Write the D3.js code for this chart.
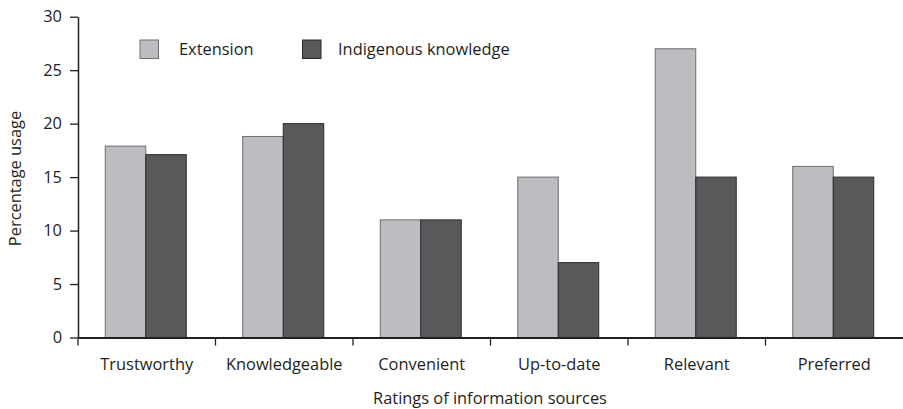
<!DOCTYPE html>
<html><head><meta charset="utf-8">
<script src="https://cdn.jsdelivr.net/npm/d3@7"></script>
<style>body{margin:0;background:#fff}svg{display:block}text{font-family:"Open Sans",sans-serif;fill:#231f20}</style>
</head><body>
<svg id="c" width="903" height="409"></svg>
<script>
const categories = ["Trustworthy","Knowledgeable","Convenient","Up-to-date","Relevant","Preferred"];
const extension = [17.9, 18.8, 11, 15, 27, 16];
const indigenous = [17.1, 20, 11, 7, 15, 15];
const seriesNames = ["Extension","Indigenous knowledge"];
const yTicks = [0,5,10,15,20,25,30];
const xTitle = "Ratings of information sources";
const yTitle = "Percentage usage";

const FS = 16.4;
const svg = d3.select("#c");
const x0 = 78, x1 = 903, yTop = 16.7, yBot = 337.5;
const x = d3.scaleBand().domain(categories).range([x0, x1]).paddingInner(0).paddingOuter(0);
const sub = d3.scaleBand().domain(seriesNames).range([0, 81]);
const y = d3.scaleLinear().domain([0,30]).range([yBot, yTop]);
const fills = ["#bcbdc0","#58595b"], strokes = ["#6d6e71","#2b2b2d"];

const data = categories.map((c,i)=>({c, v:[extension[i], indigenous[i]]}));
const g = svg.append("g");
data.forEach(d=>{
  const cx = x(d.c) + x.bandwidth()/2 - 41.5;
  d.v.forEach((v,j)=>{
    g.append("rect")
      .attr("x", cx + sub(seriesNames[j]))
      .attr("y", y(v))
      .attr("width", sub.bandwidth())
      .attr("height", yBot - y(v))
      .attr("fill", fills[j]).attr("stroke", strokes[j]).attr("stroke-width",1);
  });
});

// y axis
const ya = svg.append("g").attr("transform",`translate(${x0},0)`)
  .call(d3.axisLeft(y).tickValues(yTicks).tickSize(8).tickSizeOuter(0).tickPadding(8));
ya.select(".domain").attr("stroke","#231f20").attr("stroke-width",1.5);
ya.selectAll(".tick line").attr("stroke","#231f20").attr("stroke-width",1.3);
ya.selectAll(".tick text").attr("font-size",FS).attr("fill","#231f20").style("font-family","'Open Sans',sans-serif");

// x axis
const xa = svg.append("g").attr("transform",`translate(0,${yBot})`)
  .call(d3.axisBottom(x).tickSize(0).tickSizeOuter(0));
xa.select(".domain").attr("stroke","#231f20").attr("stroke-width",2);
xa.selectAll(".tick text").attr("font-size",FS).attr("fill","#231f20")
  .attr("y",32).attr("dy",0).style("font-family","'Open Sans',sans-serif");
// boundary ticks
const bounds = categories.map(c=>x(c));
svg.append("g").selectAll("line").data(bounds).join("line")
  .attr("x1",d=>d).attr("x2",d=>d).attr("y1",yBot).attr("y2",yBot+8)
  .attr("stroke","#231f20").attr("stroke-width",1.3);

// titles
svg.append("text").attr("x",490).attr("y",404).attr("text-anchor","middle").attr("font-size",FS).text(xTitle);
svg.append("text").attr("transform","translate(20.5,178.5) rotate(-90)").attr("text-anchor","middle").attr("font-size",FS).text(yTitle);

// legend
const lg = svg.append("g");
const lx = [140, 302.5], tx = [179, 338];
seriesNames.forEach((n,j)=>{
  lg.append("rect").attr("x",lx[j]).attr("y",40).attr("width",18.5).attr("height",18.5)
    .attr("fill",fills[j]).attr("stroke",strokes[j]).attr("stroke-width",1);
  lg.append("text").attr("x",tx[j]).attr("y",54.5).attr("font-size",FS).text(n);
});
</script>
</body></html>
